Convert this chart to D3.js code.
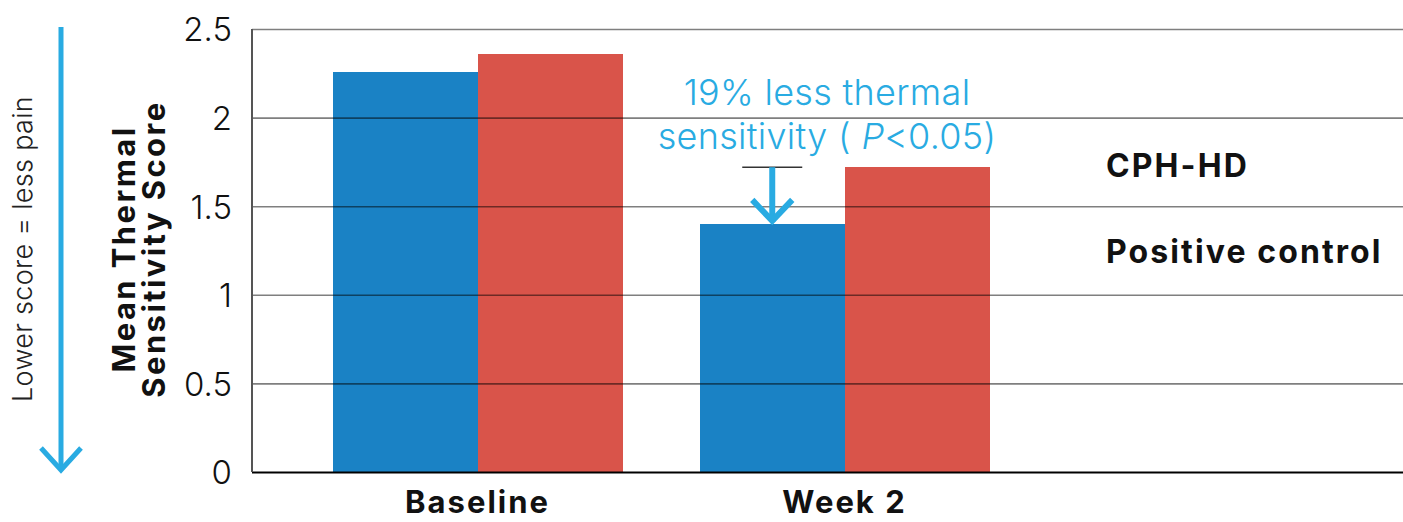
<!DOCTYPE html>
<html>
<head>
<meta charset="utf-8">
<script src="https://cdn.jsdelivr.net/npm/d3@7"></script>
<style>
  html, body { margin: 0; padding: 0; background: #fff; }
  svg { display: block; }
  .light { font-family: Inter, "Noto Sans", sans-serif; font-weight: 300; }
  .bold { font-family: Inter, "Noto Sans", sans-serif; font-weight: 700; }
</style>
</head>
<body>
<svg id="chart" width="1403" height="522"></svg>
<script>
// Mean thermal sensitivity score by visit, two treatment groups
const categories = ["Baseline", "Week 2"];
const seriesNames = ["CPH-HD", "Positive control"];
const cphValues = [2.26, 1.40];
const controlValues = [2.36, 1.72];
const yTicks = [0, 0.5, 1, 1.5, 2, 2.5];
const yTickLabels = ["0", "0.5", "1", "1.5", "2", "2.5"];
const seriesColors = ["#1a82c5", "#d9544a"];
const accent = "#29abe2";

const plot = { left: 252, right: 1403, top: 29, bottom: 472 };

const svg = d3.select("#chart");

const y = d3.scaleLinear().domain([0, 2.5]).range([plot.bottom, plot.top]);
const x = d3.scaleBand().domain(categories).range([294, 1028])
  .paddingInner(0.2125).paddingOuter(0.10625);
const xs = d3.scaleBand().domain(seriesNames).range([0, x.bandwidth()]);

// bars
const rows = categories.map((c, i) => ({ cat: c, vals: [cphValues[i], controlValues[i]] }));
const groups = svg.append("g").selectAll("g").data(rows).join("g")
  .attr("transform", d => `translate(${x(d.cat)},0)`);
groups.selectAll("rect")
  .data(d => d.vals.map((v, j) => ({ v, s: seriesNames[j], j })))
  .join("rect")
  .attr("x", d => xs(d.s))
  .attr("width", xs.bandwidth() + 0.5)
  .attr("y", d => y(d.v))
  .attr("height", d => y(0) - y(d.v))
  .attr("shape-rendering", "crispEdges")
  .attr("fill", d => seriesColors[d.j]);

// gridlines and tick labels, drawn over the bars
const axis = svg.append("g").attr("transform", `translate(${plot.left},0)`)
  .call(d3.axisLeft(y).tickValues(yTicks)
    .tickSize(-(plot.right - plot.left))
    .tickPadding(20)
    .tickFormat((d, i) => yTickLabels[i]));
axis.select(".domain").remove();
axis.selectAll(".tick line")
  .attr("stroke", "#000")
  .attr("stroke-opacity", d => d === 0 ? 1 : 0.5)
  .attr("stroke-width", d => d === 0 ? 2 : 1.6);
axis.selectAll(".tick text")
  .attr("class", "light")
  .attr("font-size", 33)
  .attr("fill", "#111")
  .attr("dy", "0.36em");

// vertical axis line
svg.append("line")
  .attr("x1", plot.left).attr("x2", plot.left)
  .attr("y1", y(2.5)).attr("y2", y(0))
  .attr("stroke", "#555").attr("stroke-width", 2);

// category labels
svg.append("g").selectAll("text").data(categories).join("text")
  .attr("class", "bold")
  .attr("x", d => x(d) + x.bandwidth() / 2)
  .attr("y", 513)
  .attr("text-anchor", "middle")
  .attr("font-size", 31)
  .attr("letter-spacing", 2)
  .attr("fill", "#111")
  .text(d => d);

// y axis title
const yTitle = svg.append("text")
  .attr("class", "bold")
  .attr("transform", "translate(135,249) rotate(-90)")
  .attr("text-anchor", "middle")
  .attr("font-size", 31)
  .attr("letter-spacing", 2.4)
  .attr("fill", "#111");
yTitle.append("tspan").attr("x", 0).attr("y", 0).text("Mean Thermal");
yTitle.append("tspan").attr("x", 0).attr("y", 30).text("Sensitivity Score");

// "lower is better" guide arrow
svg.append("line")
  .attr("x1", 61).attr("x2", 61).attr("y1", 27).attr("y2", 470)
  .attr("stroke", accent).attr("stroke-width", 5);
svg.append("path")
  .attr("d", "M41,448 L61,470 L81,448")
  .attr("fill", "none").attr("stroke", accent).attr("stroke-width", 5);
svg.append("text")
  .attr("class", "light")
  .attr("transform", "translate(32,249) rotate(-90)")
  .attr("text-anchor", "middle")
  .attr("font-size", 27)
  .attr("letter-spacing", 0.3)
  .attr("fill", "#222")
  .text("Lower score = less pain");

// legend
svg.append("g").selectAll("text").data(seriesNames).join("text")
  .attr("class", "bold")
  .attr("x", 1106)
  .attr("y", (d, i) => 177 + i * 86)
  .attr("font-size", 32)
  .attr("letter-spacing", 2.1)
  .attr("fill", "#111")
  .text(d => d);

// week 2 difference annotation
const wk = categories[1];
const cx = x(wk) + xs(seriesNames[0]) + xs.bandwidth() / 2;
const yTop = y(controlValues[1]);
const yBot = y(cphValues[1]);
svg.append("line")
  .attr("x1", cx - 30).attr("x2", cx + 30)
  .attr("y1", yTop).attr("y2", yTop)
  .attr("stroke", "#333").attr("stroke-width", 1.5);
svg.append("line")
  .attr("x1", cx).attr("x2", cx).attr("y1", yTop).attr("y2", yBot - 2)
  .attr("stroke", accent).attr("stroke-width", 6);
svg.append("path")
  .attr("d", `M${cx - 20},${yBot - 24} L${cx},${yBot - 3} L${cx + 20},${yBot - 24}`)
  .attr("fill", "none").attr("stroke", accent).attr("stroke-width", 6);

const note = svg.append("text")
  .attr("class", "light")
  .attr("text-anchor", "middle")
  .attr("font-size", 36)
  .attr("letter-spacing", 0.3)
  .attr("fill", accent);
note.append("tspan").attr("x", 827).attr("y", 105).text("19% less thermal");
const l2 = note.append("tspan").attr("x", 827).attr("y", 149);
l2.append("tspan").text("sensitivity ( ");
l2.append("tspan").attr("font-style", "italic").text("P");
l2.append("tspan").text("<0.05)");
</script>
</body>
</html>
